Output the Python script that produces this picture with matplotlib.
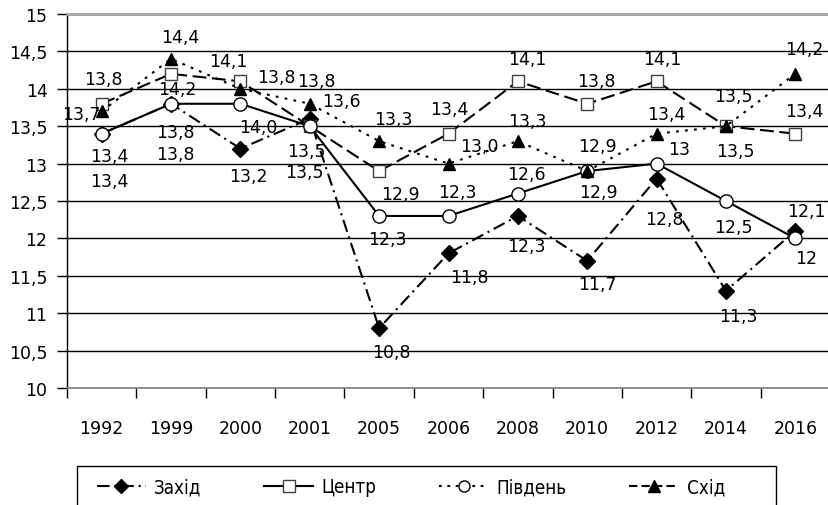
import numpy as np
import matplotlib
matplotlib.use("Agg")
import matplotlib.pyplot as plt
from matplotlib.lines import Line2D
from matplotlib.patches import Rectangle

plt.rcParams['font.family'] = ['DejaVu Sans']
plt.rcParams['lines.scale_dashes'] = False

# data
years = ['1992', '1999', '2000', '2001', '2005', '2006', '2008', '2010', '2012', '2014', '2016']
zakhid = [13.4, 13.8, 13.2, 13.6, 10.8, 11.8, 12.3, 11.7, 12.8, 11.3, 12.1]
tsentr = [13.8, 14.2, 14.1, 13.5, 12.9, 13.4, 14.1, 13.8, 14.1, 13.5, 13.4]
pivden = [13.4, 13.8, 13.8, 13.5, 12.3, 12.3, 12.6, 12.9, 13.0, 12.5, 12.0]
skhid = [13.7, 14.4, 14.0, 13.8, 13.3, 13.0, 13.3, 12.9, 13.4, 13.5, 14.2]

# data labels as printed on the chart
zakhid_lbl = ['13,4', '13,8', '13,2', '13,6', '10,8', '11,8', '12,3', '11,7', '12,8', '11,3', '12,1']
tsentr_lbl = ['13,8', '14,2', '14,1', '13,5', '12,9', '13,4', '14,1', '13,8', '14,1', '13,5', '13,4']
pivden_lbl = ['13,4', '13,8', '14,0', '13,5', '12,3', '12,3', '12,6', '12,9', '13', '12,5', '12']
skhid_lbl = ['13,7', '14,4', '13,8', '13,8', '13,3', '13,0', '13,3', '12,9', '13,4', '13,5', '14,2']

yticks = [10, 10.5, 11, 11.5, 12, 12.5, 13, 13.5, 14, 14.5, 15]
ytick_lbl = ['10', '10,5', '11', '11,5', '12', '12,5', '13', '13,5', '14', '14,5', '15']

# label offsets (pixels)
zakhid_off = [(8, -47), (4, -50), (8, -27), (32, 18), (12, -24), (21, -24), (9, -30), (10, -23), (8, -40), (12, -25), (11, 20)]
tsentr_off = [(2, 25), (6, -15), (-12, 20), (-3, -25), (21, -23), (1, 25), (9, 22), (9, 23), (6, 22), (7, 30), (9, 23)]
pivden_off = [(8, -22), (4, -28), (18, -23), (-5, -46), (8, -23), (9, 24), (9, 20), (11, -21), (23, 15), (7, -26), (11, -20)]
skhid_off = [(-20, -3), (9, 22), (36, 12), (7, 23), (14, 22), (31, 18), (10, 20), (10, 25), (10, 20), (9, -25), (9, 25)]

fig = plt.figure(figsize=(8.29, 5.06), dpi=100)
ax = fig.add_axes([67/829, 1-389/506, (830-67)/829, (389-15)/506])
x = np.arange(len(years))

lw = 1.5
ax.plot(x, zakhid, color='black', lw=lw, dashes=(9, 3.5, 1.5, 3.5), marker='D', ms=8,
        mfc='black', mec='black', zorder=3)
ax.plot(x, tsentr, color='black', lw=lw, dashes=(10, 4), marker='s', ms=9,
        mfc='white', mec='#404040', mew=1, zorder=4)
ax.plot(x, pivden, color='black', lw=lw, ls='-', marker='o', ms=9.5,
        mfc='white', mec='black', mew=1, zorder=5)
ax.plot(x, skhid, color='black', lw=lw, dashes=(2, 4.5), marker='^', ms=9,
        mfc='black', mec='black', zorder=6)

for vals, lbls, offs in [(zakhid, zakhid_lbl, zakhid_off), (tsentr, tsentr_lbl, tsentr_off),
                         (pivden, pivden_lbl, pivden_off), (skhid, skhid_lbl, skhid_off)]:
    for i in range(len(vals)):
        ax.annotate(lbls[i], (x[i], vals[i]), xytext=offs[i], textcoords='offset pixels',
                    ha='center', va='center', fontsize=12.5, zorder=7)

ax.set_xlim(-0.5, len(years) - 0.5)
ax.set_ylim(10, 15)
ax.set_yticks(yticks)
ax.set_yticklabels(ytick_lbl, fontsize=12.5)
ax.set_xticks(x)
ax.set_xticklabels(years, fontsize=12.5)
ax.set_xticks(np.arange(len(years) + 1) - 0.5, minor=True)
ax.tick_params(axis='x', which='major', length=0, pad=22)
ax.tick_params(axis='x', which='minor', length=7, width=1, direction='out')
ax.tick_params(axis='y', length=7, width=1, pad=7)

ax.yaxis.grid(True, color='black', lw=1)
ax.set_axisbelow(True)
ax.spines['right'].set_visible(False)
ax.spines['top'].set_color('#a6a6a6')
ax.spines['top'].set_linewidth(2)
ax.spines['left'].set_linewidth(1)
ax.spines['bottom'].set_color('#808080')
ax.spines['bottom'].set_linewidth(1.2)

# legend drawn as in the original (frame runs past the bottom edge)
handles = [
    Line2D([], [], color='black', lw=lw, dashes=(9, 3.5, 1.5, 3.5), marker='D', ms=7, mfc='black'),
    Line2D([], [], color='black', lw=lw, ls='-', marker='s', ms=8, mfc='white', mec='#404040', mew=1),
    Line2D([], [], color='black', lw=lw, dashes=(2, 4), marker='o', ms=8, mfc='white', mew=1),
    Line2D([], [], color='black', lw=lw, dashes=(6, 3), marker='^', ms=8, mfc='black'),
]
names = ['Захід', 'Центр', 'Південь', 'Схід']
fig.patches.append(Rectangle((77/829, -10/506), 699/829, (506-467+10)/506, transform=fig.transFigure,
                             fill=False, edgecolor='black', lw=1))
leg = fig.legend(handles, names, loc='center left', ncol=4,
                 bbox_to_anchor=(97/829, 1-488/506), borderaxespad=0, borderpad=0,
                 frameon=False, handlelength=2.6, handletextpad=0.45, columnspacing=3.35,
                 prop={'family': ['DejaVu Sans'], 'stretch': 'condensed', 'size': 13.5})

fig.savefig('out.png', dpi=100)
